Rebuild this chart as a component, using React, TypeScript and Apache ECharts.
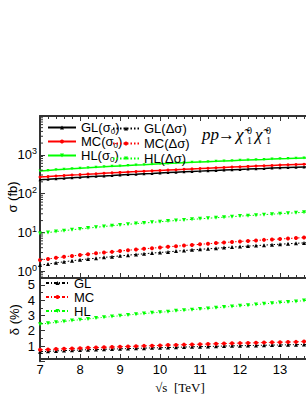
import React, { useEffect, useRef } from "react";
import * as echarts from "echarts";

const X = [7.0, 7.2, 7.4, 7.6, 7.8, 8.0, 8.2, 8.4, 8.6, 8.8, 9.0, 9.2, 9.4, 9.6, 9.8, 10.0, 10.2, 10.4, 10.6, 10.8, 11.0, 11.2, 11.4, 11.6, 11.8, 12.0, 12.2, 12.4, 12.6, 12.8, 13.0, 13.2, 13.4, 13.6, 13.8, 14.0];

// sigma_0 (fb)
const GL_S0 = [225, 232, 240, 247, 255, 262, 270, 277, 285, 292, 300, 308, 315, 323, 330, 338, 346, 354, 362, 370, 378, 386, 394, 402, 410, 418, 426, 435, 443, 452, 460, 468, 476, 484, 492, 500];
const MC_S0 = [265, 273, 282, 290, 299, 307, 316, 324, 333, 341, 350, 359, 367, 376, 384, 393, 402, 412, 421, 431, 440, 450, 460, 470, 480, 490, 500, 510, 520, 530, 540, 550, 560, 570, 580, 590];
const HL_S0 = [382, 395, 408, 422, 435, 448, 461, 475, 488, 502, 515, 528, 542, 555, 569, 582, 596, 609, 623, 636, 650, 664, 677, 691, 704, 718, 731, 745, 758, 772, 785, 798, 812, 825, 839, 852];

// Delta sigma (fb)
const GL_DS = [1.42, 1.51, 1.63, 1.73, 1.84, 1.94, 2.05, 2.13, 2.25, 2.34, 2.46, 2.56, 2.68, 2.78, 2.90, 3.01, 3.11, 3.26, 3.37, 3.52, 3.63, 3.74, 3.86, 4.02, 4.14, 4.26, 4.39, 4.52, 4.65, 4.79, 4.92, 5.05, 5.19, 5.32, 5.46, 5.60];
const MC_DS = [1.92, 2.04, 2.19, 2.32, 2.45, 2.58, 2.72, 2.86, 3.00, 3.12, 3.28, 3.43, 3.58, 3.75, 3.88, 4.05, 4.22, 4.37, 4.55, 4.70, 4.89, 5.05, 5.25, 5.41, 5.62, 5.79, 5.96, 6.13, 6.36, 6.53, 6.71, 6.89, 7.07, 7.31, 7.50, 7.69];
const HL_DS = [9.28, 9.84, 10.4, 11.0, 11.6, 12.2, 12.8, 13.4, 14.1, 14.7, 15.4, 16.0, 16.7, 17.3, 18.0, 18.7, 19.4, 20.1, 20.8, 21.5, 22.2, 23.0, 23.7, 24.5, 25.3, 26.1, 26.8, 27.6, 28.5, 29.3, 30.1, 31.0, 31.8, 32.8, 33.6, 34.5];

// delta (%)
const GL_D = [0.63, 0.65, 0.68, 0.70, 0.72, 0.74, 0.76, 0.77, 0.79, 0.80, 0.82, 0.83, 0.85, 0.86, 0.88, 0.89, 0.90, 0.92, 0.93, 0.95, 0.96, 0.97, 0.98, 1.00, 1.01, 1.02, 1.03, 1.04, 1.05, 1.06, 1.07, 1.08, 1.09, 1.10, 1.11, 1.12];
const MC_D = [0.75, 0.77, 0.80, 0.82, 0.84, 0.86, 0.88, 0.90, 0.92, 0.93, 0.95, 0.97, 0.99, 1.01, 1.02, 1.04, 1.06, 1.07, 1.09, 1.10, 1.12, 1.13, 1.15, 1.16, 1.18, 1.19, 1.20, 1.21, 1.23, 1.24, 1.25, 1.26, 1.27, 1.29, 1.30, 1.31];
const HL_D = [2.43, 2.49, 2.55, 2.61, 2.67, 2.72, 2.77, 2.83, 2.88, 2.93, 2.98, 3.03, 3.08, 3.12, 3.17, 3.21, 3.25, 3.30, 3.34, 3.38, 3.42, 3.46, 3.50, 3.55, 3.59, 3.63, 3.67, 3.71, 3.76, 3.80, 3.84, 3.88, 3.92, 3.97, 4.01, 4.05];

const LOG_MINOR_TICKS = [0.7, 0.8, 0.9, 2, 3, 4, 5, 6, 7, 8, 9, 20, 30, 40, 50, 60, 70, 80, 90, 200, 300, 400, 500, 600, 700, 800, 900, 2000, 3000, 4000, 5000, 6000, 7000, 8000, 9000];

const X_LABELS = ["7", "8", "9", "10", "11", "12", "13"];
const DELTA_LABELS = ["1", "2", "3", "4", "5"];

const FRAME = "#333333";
const SANS = "'Liberation Sans', Arial, sans-serif";
const SERIF = "'Liberation Serif', 'Times New Roman', serif";

const pair = (ys: number[]) => X.map((x, i) => [x, ys[i]]);

export default function App() {
  const ref = useRef<HTMLDivElement>(null);
  useEffect(() => {
    if (!ref.current) return;
    const chart = echarts.init(ref.current, null, { renderer: "svg" });
    const axisLine = { show: true, onZero: false, lineStyle: { color: FRAME, width: 2 } };
    const xCommon = {
      type: "value",
      min: 7,
      max: 14,
      interval: 1,
      axisLine,
      splitLine: { show: false },
      axisTick: { show: true, inside: true, length: 5, lineStyle: { color: FRAME, width: 1 } },
      minorTick: { show: true, splitNumber: 5, length: 3, lineStyle: { color: FRAME, width: 1 } },
      axisLabel: { show: false },
    };
    const richSup = {
      b: { fontSize: 13, lineHeight: 16, fontFamily: SANS, color: "#000" },
      s: { fontSize: 9, lineHeight: 9, verticalAlign: "top", fontFamily: SANS, color: "#000" },
    };
    const legendRich = {
      t: { fontSize: 13, lineHeight: 15, fontFamily: SANS, color: "#000" },
      s: { fontSize: 8, lineHeight: 8, verticalAlign: "bottom", fontFamily: SANS, color: "#000" },
    };
    const solid = (name: string, data: number[], color: string, symbol: string, rot = 0) => ({
      name,
      type: "line",
      xAxisIndex: 0,
      yAxisIndex: 0,
      data: pair(data),
      symbol,
      symbolRotate: rot,
      symbolSize: 3,
      lineStyle: { color, width: 1.5 },
      itemStyle: { color },
      z: 3,
    });
    const dotted = (name: string, data: number[], color: string, symbol: string, rot = 0, xi = 0, yi = 0, dash: any = [1.5, 2]) => ({
      name,
      type: "line",
      xAxisIndex: xi,
      yAxisIndex: yi,
      data: pair(data),
      symbol,
      symbolRotate: rot,
      symbolSize: 4,
      lineStyle: { color, width: 1, type: dash },
      itemStyle: { color },
      z: 3,
    });
    const option: any = {
      animation: false,
      textStyle: { fontFamily: SANS },
      grid: [
        { left: 40, width: 280, top: 116, height: 162, outerBoundsMode: "none", containLabel: false },
        { left: 40, width: 280, top: 278, height: 83.3, outerBoundsMode: "none", containLabel: false },
      ],
      xAxis: [
        { ...xCommon, gridIndex: 0, position: "bottom" },
        { ...xCommon, gridIndex: 0, position: "top" },
        {
          ...xCommon,
          gridIndex: 1,
          position: "bottom",
          offset: -2.3,
          axisLabel: {
            show: true,
            margin: 4,
            fontSize: 13,
            color: "#000",
            fontFamily: SANS,
            formatter: (v: number) => X_LABELS[Math.round(v) - 7] ?? "",
          },
          name: "√s  [TeV]",
          nameLocation: "middle",
          nameGap: 22,
          nameMoveOverlap: false,
          nameTextStyle: { fontFamily: SERIF, fontSize: 13, color: "#000" },
        },
        { ...xCommon, gridIndex: 1, position: "top", axisTick: { show: false }, minorTick: { show: false } },
      ],
      yAxis: [
        {
          type: "log",
          logBase: 10,
          gridIndex: 0,
          min: 0.66,
          max: 10000,
          position: "left",
          axisLine,
          splitLine: { show: false },
          axisTick: { show: true, inside: true, length: 5, lineStyle: { color: FRAME } },
          minorTick: { show: false },
          axisLabel: {
            margin: 3,
            showMinLabel: false,
            showMaxLabel: false,
            formatter: (v: number) => {
              const l = Math.log10(v);
              const r = Math.round(l);
              if (Math.abs(l - r) > 1e-6 || r > 3) return "";
              return `{b|10}{s|${r}}`;
            },
            rich: richSup,
          },
          name: "σ (fb)",
          nameLocation: "middle",
          nameGap: 21,
          nameMoveOverlap: false,
          nameTextStyle: { fontSize: 13, color: "#000", fontFamily: SANS },
        },
        {
          type: "log",
          gridIndex: 0,
          min: 0.66,
          max: 10000,
          position: "right",
          axisLine,
          splitLine: { show: false },
          axisTick: { show: false },
          axisLabel: { show: false },
        },
        {
          type: "value",
          gridIndex: 1,
          min: 0,
          max: 5.45,
          interval: 1,
          position: "left",
          axisLine,
          splitLine: { show: false },
          axisTick: { show: true, inside: true, length: 5, lineStyle: { color: FRAME } },
          minorTick: { show: true, splitNumber: 2, length: 3, lineStyle: { color: FRAME } },
          axisLabel: {
            margin: 5,
            fontSize: 13,
            color: "#000",
            fontFamily: SANS,
            formatter: (v: number) =>
              Math.abs(v - Math.round(v)) < 1e-6 ? DELTA_LABELS[Math.round(v) - 1] ?? "" : "",
          },
          name: "δ (%)",
          nameLocation: "middle",
          nameGap: 19,
          nameMoveOverlap: false,
          nameTextStyle: { fontSize: 13, color: "#000", fontFamily: SANS },
        },
        {
          type: "value",
          gridIndex: 1,
          min: 0,
          max: 5.45,
          position: "right",
          axisLine,
          splitLine: { show: false },
          axisTick: { show: false },
          axisLabel: { show: false },
        },
      ],
      legend: [
        {
          data: ["GL(σ0)", "MC(σ0)", "HL(σ0)"],
          left: 47,
          top: 121,
          padding: 0,
          orient: "vertical",
          itemGap: 0,
          itemWidth: 28,
          itemHeight: 5,
          formatter: (n: string) => n.replace(/\(σ0\)/, "{t|(σ}{s|0}{t|)}").replace(/^(GL|MC|HL)/, "{t|$1}"),
          textStyle: { rich: legendRich, fontSize: 13, color: "#000" },
        },
        {
          data: ["GL(Δσ)", "MC(Δσ)", "HL(Δσ)"],
          left: 112,
          top: 121,
          padding: 0,
          orient: "vertical",
          itemGap: 0,
          itemWidth: 26,
          itemHeight: 5,
          textStyle: { fontSize: 13, lineHeight: 15, color: "#000", fontFamily: SANS },
        },
        {
          data: ["GL", "MC", "HL"],
          left: 45,
          top: 276,
          padding: 0,
          orient: "vertical",
          itemGap: 0,
          itemWidth: 23,
          itemHeight: 5,
          textStyle: { fontSize: 13, lineHeight: 14, color: "#000", fontFamily: SANS },
        },
      ],
      graphic: [
        {
          type: "group",
          left: 202,
          top: 125,
          children: [
            { type: "text", x: 0, y: 0, style: { text: "pp", font: `italic 17px ${SERIF}`, fill: "#000" } },
            { type: "text", x: 16, y: 0, style: { text: "→", font: `17px ${SERIF}`, fill: "#000" } },
            { type: "text", x: 34, y: 0, style: { text: "χ̃", font: `italic 17px ${SERIF}`, fill: "#000" } },
            { type: "text", x: 45, y: -1, style: { text: "0", font: `10px ${SERIF}`, fill: "#000" } },
            { type: "text", x: 45, y: 9, style: { text: "1", font: `10px ${SERIF}`, fill: "#000" } },
            { type: "text", x: 53, y: 0, style: { text: "χ̃", font: `italic 17px ${SERIF}`, fill: "#000" } },
            { type: "text", x: 64, y: -1, style: { text: "0", font: `10px ${SERIF}`, fill: "#000" } },
            { type: "text", x: 64, y: 9, style: { text: "1", font: `10px ${SERIF}`, fill: "#000" } },
          ],
        },
      ],
      series: [
        solid("GL(σ0)", GL_S0, "#000000", "triangle"),
        solid("MC(σ0)", MC_S0, "#ff0000", "circle"),
        solid("HL(σ0)", HL_S0, "#00ff00", "triangle", 180),
        dotted("GL(Δσ)", GL_DS, "#000000", "triangle"),
        dotted("MC(Δσ)", MC_DS, "#ff0000", "circle"),
        dotted("HL(Δσ)", HL_DS, "#00ff00", "triangle", 180),
        dotted("GL", GL_D, "#000000", "triangle", 0, 2, 2, [3, 2, 1, 2]),
        dotted("MC", MC_D, "#ff0000", "circle", 0, 2, 2, [3, 2, 1, 2]),
        dotted("HL", HL_D, "#00ff00", "triangle", 180, 2, 2, [3, 2, 1, 2]),
        {
          type: "custom",
          name: "minorLogTicks",
          xAxisIndex: 0,
          yAxisIndex: 0,
          silent: true,
          data: LOG_MINOR_TICKS.map((v) => [7, v]),
          encode: { x: 0, y: 1 },
          renderItem: (_p: any, api: any) => {
            const c = api.coord([api.value(0), api.value(1)]);
            return {
              type: "line",
              shape: { x1: c[0], y1: c[1], x2: c[0] + 3, y2: c[1] },
              style: { stroke: FRAME, lineWidth: 1 },
            };
          },
          z: 4,
        },
      ],
    };
    chart.setOption(option);
    return () => chart.dispose();
  }, []);
  return (
    <div style={{ position: "absolute", left: 0, top: 0, width: 306, height: 396, overflow: "hidden", background: "#fff" }}>
      <div ref={ref} style={{ width: 340, height: 396 }} />
    </div>
  );
}
